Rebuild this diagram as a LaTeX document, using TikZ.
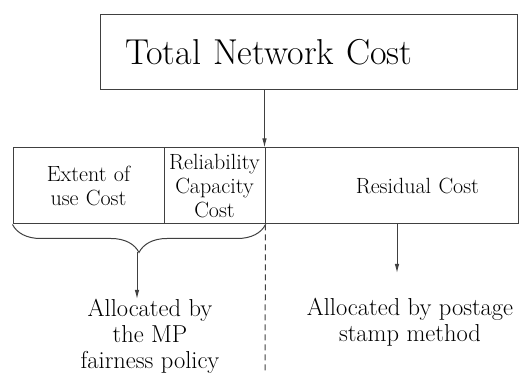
\documentclass[tikz,border=0pt]{standalone}
\usetikzlibrary{arrows.meta,decorations.pathreplacing}

\begin{document}
\begin{tikzpicture}[x=1pt, y=1pt, line width=1pt, draw=black!75,
    cell/.style={draw, minimum height=76pt, inner xsep=0pt, align=center, font=\fontsize{22}{24}\selectfont},
    note/.style={anchor=north, inner sep=0pt, align=center, font=\fontsize{24.5}{26}\selectfont},
    arr/.style={-{Latex[length=9pt, width=4.5pt]}}]
    \useasboundingbox (0,0) rectangle (520,374);
    \node[draw, minimum height=75pt, text width=367pt, inner xsep=25pt, align=left, font=\fontsize{36}{40}\selectfont] at (308.5,321.5) (total) {Total Network Cost};
    \node[cell, text width=151pt] at (88.5,188) (extent) {Extent of\\use Cost};
    \node[cell, text width=101pt] at (214.5,188) (rel) {Reliability\\Capacity\\Cost};
    \node[cell, text width=175pt, inner xsep=39pt, align=right] at (391.5,188) (resid) {Residual Cost};
    \coordinate (tip) at (137,122);
    \coordinate (residend) at (397,101);
    \coordinate (dashend) at (265,0);
    \node[note] at (150,75) (mpnote) {Allocated by\\the MP\\fairness policy};
    \node[note] at (410,76) (stampnote) {Allocated by postage\\stamp method};
    \draw[arr] (total.south -| resid.north west) -- (resid.north west);
    \draw[decorate, decoration={brace, mirror, amplitude=28pt}] (extent.south west) -- (rel.south east);
    \draw[arr] (tip) -- (tip |- mpnote.north);
    \draw[arr] (residend |- resid.south) -- (residend);
    \draw[dashed, dash pattern=on 6pt off 4pt] (rel.south east) -- (dashend);
\end{tikzpicture}
\end{document}
